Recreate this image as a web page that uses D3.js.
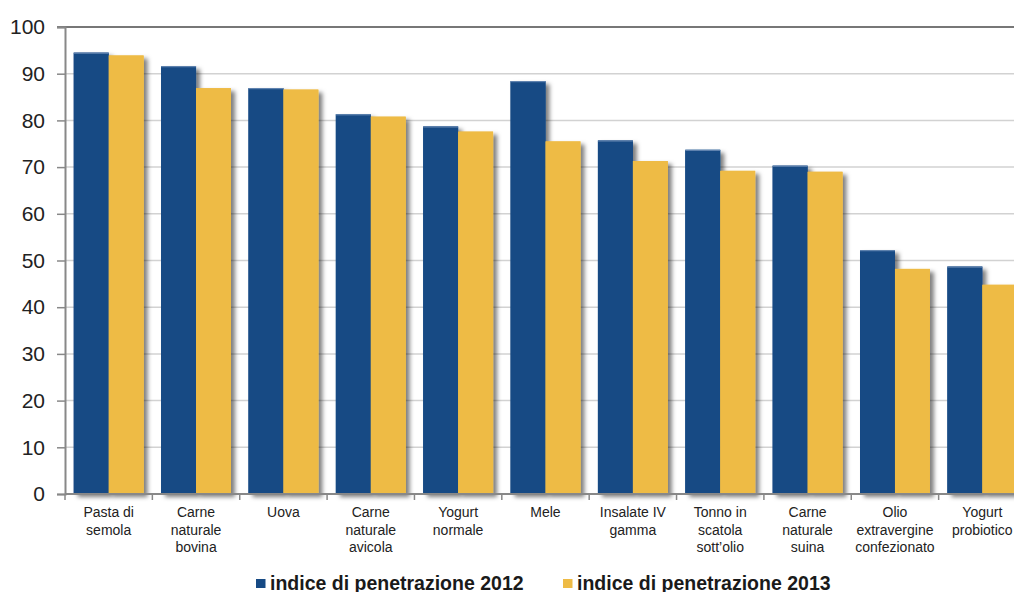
<!DOCTYPE html>
<html>
<head>
<meta charset="utf-8">
<script src="https://cdn.jsdelivr.net/npm/d3@7/dist/d3.min.js"></script>
<style>
  html, body { margin: 0; padding: 0; background: #fff; }
  svg { display: block; font-family: "Liberation Sans", Arial, sans-serif; }
</style>
</head>
<body>
<svg id="chart" width="1014" height="592"></svg>
<script>
// Product categories (line breaks are drawn as separate label lines)
const categories = [
  "Pasta di\nsemola",
  "Carne\nnaturale\nbovina",
  "Uova",
  "Carne\nnaturale\navicola",
  "Yogurt\nnormale",
  "Mele",
  "Insalate IV\ngamma",
  "Tonno in\nscatola\nsott’olio",
  "Carne\nnaturale\nsuina",
  "Olio\nextravergine\nconfezionato",
  "Yogurt\nprobiotico"
];
const values2012 = [94.5, 91.6, 86.9, 81.3, 78.7, 88.4, 75.7, 73.7, 70.3, 52.2, 48.7];
const values2013 = [93.9, 86.9, 86.6, 80.8, 77.6, 75.5, 71.3, 69.2, 69.0, 48.2, 44.8];
const seriesNames = ["indice di penetrazione 2012", "indice di penetrazione 2013"];
const seriesColors = ["#174a84", "#eebb45"];
const yTicks = [0, 10, 20, 30, 40, 50, 60, 70, 80, 90, 100];

const svg = d3.select("#chart");
const plotLeft = 65, plotTop = 27, plotBottom = 494, plotRight = 1026;

const defs = svg.append("defs");
const shadow = defs.append("filter").attr("id", "barShadow")
  .attr("x", "-20%").attr("y", "-10%").attr("width", "160%").attr("height", "130%");
shadow.append("feDropShadow")
  .attr("dx", 4).attr("dy", 3).attr("stdDeviation", 2.2)
  .attr("flood-color", "#000").attr("flood-opacity", 0.5);

const x = d3.scaleBand().domain(d3.range(categories.length)).range([plotLeft, plotRight]).paddingInner(0).paddingOuter(0);
const inner = d3.scaleBand().domain([0, 1]).range([0, x.bandwidth()]).paddingOuter(0.25).paddingInner(0);
const y = d3.scaleLinear().domain([0, 100]).range([plotBottom, plotTop]);

// horizontal gridlines
svg.append("g").selectAll("line").data(yTicks.filter(t => t > 0 && t < 100)).join("line")
  .attr("x1", plotLeft).attr("x2", 1014)
  .attr("y1", d => y(d)).attr("y2", d => y(d))
  .attr("stroke", "#d2d2d2").attr("stroke-width", 1.5);

// plot top border at 100
svg.append("line")
  .attr("x1", plotLeft - 8).attr("x2", 1014)
  .attr("y1", y(100)).attr("y2", y(100))
  .attr("stroke", "#777").attr("stroke-width", 2);

// bars
const series = [values2012, values2013];
const barG = svg.append("g");
series.forEach((vals, s) => {
  barG.append("g").selectAll("rect").data(vals).join("rect")
    .attr("x", (d, i) => x(i) + inner(s))
    .attr("y", d => y(d))
    .attr("width", inner.bandwidth())
    .attr("height", d => y(0) - y(d))
    .attr("fill", seriesColors[s])
    .attr("filter", "url(#barShadow)");
});
// redraw bars on top without the shadow so neighbours stay crisp
series.forEach((vals, s) => {
  barG.append("g").selectAll("rect").data(vals).join("rect")
    .attr("x", (d, i) => x(i) + inner(s))
    .attr("y", d => y(d))
    .attr("width", inner.bandwidth())
    .attr("height", d => y(0) - y(d))
    .attr("fill", seriesColors[s]);
});
// light edge on top of the blue bars
barG.append("g").selectAll("line").data(values2012).join("line")
  .attr("x1", (d, i) => x(i) + inner(0)).attr("x2", (d, i) => x(i) + inner(0) + inner.bandwidth())
  .attr("y1", d => y(d) + 0.5).attr("y2", d => y(d) + 0.5)
  .attr("stroke", "#6f8fb8").attr("stroke-width", 1);

// y axis
const yAxis = svg.append("g").attr("transform", `translate(${plotLeft},0)`)
  .call(d3.axisLeft(y).tickValues(yTicks).tickSize(8).tickPadding(12).tickFormat(d3.format("d")));
yAxis.select(".domain").attr("stroke", "#888").attr("stroke-width", 2);
yAxis.selectAll(".tick line").attr("stroke", "#888").attr("stroke-width", 1.5);
yAxis.selectAll(".tick text").attr("font-size", 21).attr("fill", "#222")
  .attr("font-family", "Liberation Sans, Arial, sans-serif");

// x axis baseline with boundary ticks
svg.append("line").attr("x1", plotLeft).attr("x2", 1014).attr("y1", plotBottom).attr("y2", plotBottom)
  .attr("stroke", "#888").attr("stroke-width", 2);
svg.append("g").selectAll("line").data(d3.range(categories.length + 1)).join("line")
  .attr("x1", i => plotLeft + i * x.bandwidth()).attr("x2", i => plotLeft + i * x.bandwidth())
  .attr("y1", plotBottom).attr("y2", plotBottom + 6)
  .attr("stroke", "#888").attr("stroke-width", 1.5);

// category labels
const labels = svg.append("g").selectAll("text").data(categories).join("text")
  .attr("x", (d, i) => x(i) + x.bandwidth() / 2)
  .attr("y", 517)
  .attr("text-anchor", "middle")
  .attr("font-size", 14)
  .attr("fill", "#222");
labels.each(function(d) {
  const t = d3.select(this);
  t.selectAll("tspan").data(d.split("\n")).join("tspan")
    .attr("x", t.attr("x"))
    .attr("dy", (s, j) => j === 0 ? 0 : 17.5)
    .text(s => s);
});

// legend
const legendX = [256, 563];
const leg = svg.append("g").selectAll("g").data(seriesNames).join("g")
  .attr("transform", (d, i) => `translate(${legendX[i]},579)`);
leg.append("rect").attr("width", 9.5).attr("height", 9).attr("fill", (d, i) => seriesColors[i]);
leg.append("text").attr("x", 14).attr("y", 10.5)
  .attr("font-size", 19.5).attr("font-weight", "bold").attr("fill", "#1a1a1a")
  .text(d => d);
</script>
</body>
</html>
